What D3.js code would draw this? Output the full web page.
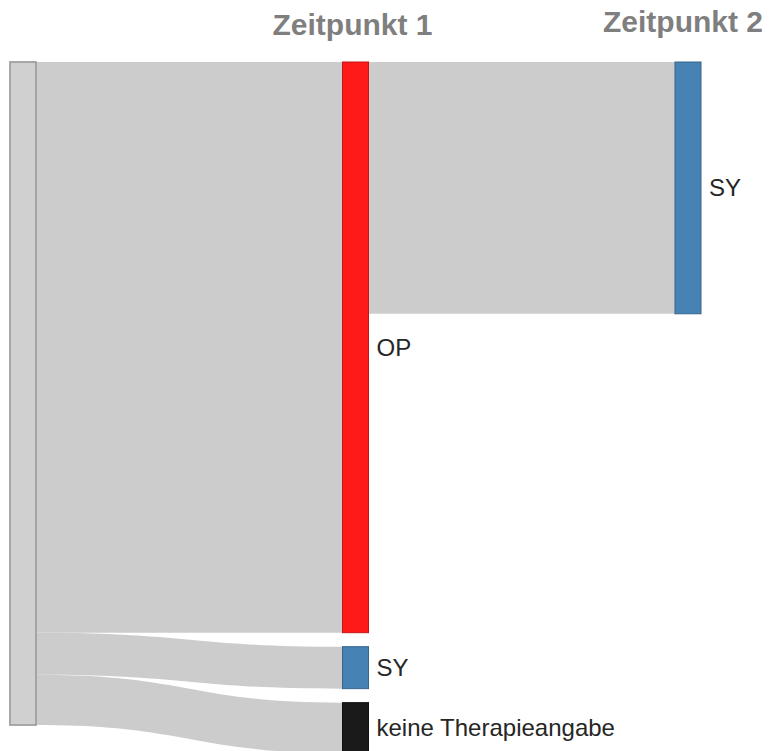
<!DOCTYPE html>
<html><head><meta charset="utf-8">
<script src="https://cdn.jsdelivr.net/npm/d3@7"></script>
<style>html,body{margin:0;padding:0;background:#fff;overflow:hidden}</style>
</head><body>
<svg id="c" width="769" height="751"></svg>
<script>
// ---- data ----
const nodeNames = ["Gesamt", "OP", "SY", "keine Therapieangabe", "SY2"];
const nodeLabels = ["", "OP", "SY", "keine Therapieangabe", "SY"];
const nodeColumns = [0, 1, 1, 1, 2];
const nodeColors = ["#d0d0d0", "#ff1a1a", "#4682b4", "#1a1a1a", "#4682b4"];
const nodeStrokes = ["#a0a0a0", "#c41414", "#36658c", "#111111", "#36658c"];
const linkSources = [0, 0, 0, 1];
const linkTargets = [1, 2, 3, 4];
const linkValues = [136, 10, 12, 60];
const columnTitles = ["Zeitpunkt 1", "Zeitpunkt 2"];
const titleColumns = [1, 2];

// ---- layout ----
const svg = d3.select("#c");
const nodeW = 26, topY = 62, pad = 14;
const x = d3.scaleLinear().domain([0, 2]).range([10, 675]);
const total = d3.sum(linkValues.slice(0, 3));
const h = d3.scaleLinear().domain([0, total]).range([0, 663]);

const nodes = nodeNames.map((n, i) => ({ i, name: n, col: nodeColumns[i], inV: 0, outV: 0 }));
const links = linkSources.map((s, i) => ({ s, t: linkTargets[i], v: linkValues[i] }));
links.forEach(l => { nodes[l.s].outV += l.v; nodes[l.t].inV += l.v; });
nodes.forEach(n => n.value = Math.max(n.inV, n.outV));
[0, 1, 2].forEach(c => {
  let y = topY;
  nodes.filter(n => n.col === c).forEach(n => {
    n.y0 = y; n.y1 = y + h(n.value); n.x0 = x(c); n.x1 = n.x0 + nodeW;
    y = n.y1 + pad;
  });
});
const outOff = {}, inOff = {};
links.forEach(l => {
  const s = nodes[l.s], t = nodes[l.t];
  outOff[l.s] = outOff[l.s] || 0; inOff[l.t] = inOff[l.t] || 0;
  l.sy0 = s.y0 + outOff[l.s]; l.sy1 = l.sy0 + h(l.v); outOff[l.s] += h(l.v);
  l.ty0 = t.y0 + inOff[l.t]; l.ty1 = l.ty0 + h(l.v); inOff[l.t] += h(l.v);
  l.x0 = s.x1; l.x1 = t.x0;
});

function ribbon(l) {
  const p = d3.path(), xm = (l.x0 + l.x1) / 2;
  p.moveTo(l.x0, l.sy0);
  p.bezierCurveTo(xm, l.sy0, xm, l.ty0, l.x1, l.ty0);
  p.lineTo(l.x1, l.ty1);
  p.bezierCurveTo(xm, l.ty1, xm, l.sy1, l.x0, l.sy1);
  p.closePath();
  return p.toString();
}

svg.append("g").selectAll("path").data(links).join("path")
  .attr("d", ribbon).attr("fill", "#cccccc");

svg.append("g").selectAll("rect").data(nodes).join("rect")
  .attr("x", d => d.x0).attr("y", d => d.y0)
  .attr("width", nodeW).attr("height", d => d.y1 - d.y0)
  .attr("fill", d => nodeColors[d.i]).attr("stroke", d => nodeStrokes[d.i])
  .attr("stroke-width", d => d.i === 0 ? 1.8 : 1);

svg.append("g").selectAll("text").data(nodes.filter(n => nodeLabels[n.i])).join("text")
  .attr("x", d => d.x1 + 8).attr("y", d => (d.y0 + d.y1) / 2).attr("dy", "0.35em")
  .attr("font-family", "Liberation Sans, Arial, sans-serif").attr("font-size", 24)
  .attr("fill", "#262626").text(d => nodeLabels[d.i]);

svg.append("g").selectAll("text").data(columnTitles).join("text")
  .attr("x", (d, i) => x(titleColumns[i]) + (i === 0 ? 10 : 8))
  .attr("y", (d, i) => i === 0 ? 35 : 32)
  .attr("text-anchor", "middle")
  .attr("font-family", "Liberation Sans, Arial, sans-serif").attr("font-weight", "bold")
  .attr("font-size", 30).attr("fill", "#7f7f7f").text(d => d);
</script>
</body></html>
